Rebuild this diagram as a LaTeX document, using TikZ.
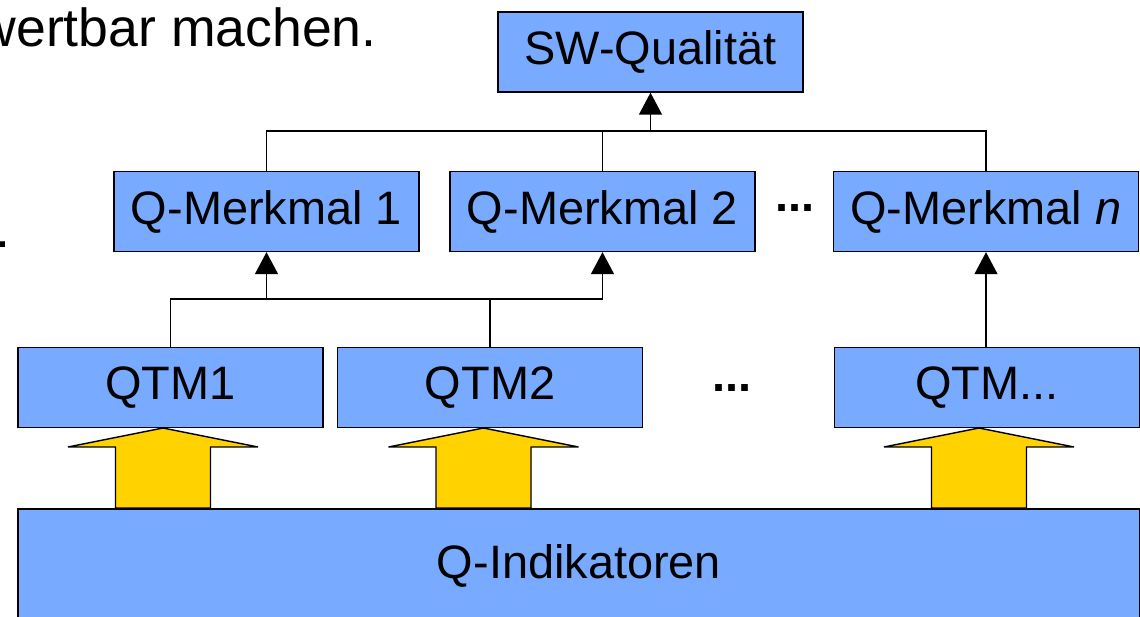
\documentclass[tikz,border=0pt]{standalone}
\usepackage{fontspec}
\setmainfont{Liberation Sans}
\usetikzlibrary{arrows.meta}

\definecolor{qblue}{RGB}{120,170,255}
\definecolor{qyellow}{RGB}{255,210,0}

\tikzset{
  qbox/.style={draw=black, fill=qblue, line width=0.8pt, minimum width=6.1cm, minimum height=1.6cm, inner sep=0pt, font=\fontsize{26.7}{32}\selectfont},
  link/.style={line width=0.85pt, -{Triangle[width=0.46cm,length=0.44cm]}},
  wire/.style={line width=0.85pt},
  fatarrow/.style={draw=black, fill=qyellow, line width=0.8pt, line join=miter}
}

\begin{document}
\begin{tikzpicture}[x=0.02cm, y=-0.02cm]

\useasboundingbox (0,0) rectangle (1140,617);

% leftover slide text
\node[anchor=base east, inner sep=0pt, font=\fontsize{30.5}{36}\selectfont] (slide) at (377,47) {wertbar machen.};
\node[anchor=base west, inner sep=0pt, font=\fontsize{30.5}{36}\selectfont] (stop) at (-5,248) {.};

% boxes
\node[qbox] (sw) at (650.5,52) {SW-Qualit\"at};
\node[qbox] (qm1) at (266.5,211.5) {Q-Merkmal 1};
\node[qbox] (qm2) at (602.5,211.5) {Q-Merkmal 2};
\node[qbox] (qmn) at (986,211.5) {Q-Merkmal \textit{n}};
\node[qbox] (qtm1) at (170.5,387.5) {QTM1};
\node[qbox] (qtm2) at (490,387.5) {QTM2};
\node[qbox] (qtmn) at (987,387.5) {QTM...};
\node[qbox, minimum width=22.44cm, minimum height=2.28cm] (qind) at (579,566) {Q-Indikatoren};

\node[anchor=base, inner sep=0pt, font=\fontsize{26.7}{32}\selectfont\bfseries] (dotsm) at (795,212) {...};
\node[anchor=base, inner sep=0pt, font=\fontsize{26.7}{32}\selectfont\bfseries] (dotsq) at (732,392) {...};

% upper tree
\coordinate (top) at (0,131);
\draw[wire] (qm1.north) |- (top -| qmn.north) -- (qmn.north);
\draw[wire] (qm2.north) -- (qm2.north |- top);
\draw[link] (sw.south |- top) -- (sw.south);

% lower tree
\coordinate (mid) at (0,299);
\draw[wire] (qtm1.north) |- (mid -| qm2.south);
\draw[wire] (qtm2.north) -- (qtm2.north |- mid);
\draw[link] (qm1.south |- mid) -- (qm1.south);
\draw[link] (qm2.south |- mid) -- (qm2.south);
\draw[link] (qtmn.north -| qmn.south) -- (qmn.south);

% yellow block arrows
\foreach \tip in {163,483.5,979}
  \draw[fatarrow] (\tip,428) -- (\tip+95,447) -- (\tip+47.5,447) -- (\tip+47.5,508)
    -- (\tip-47.5,508) -- (\tip-47.5,447) -- (\tip-95,447) -- cycle;

\end{tikzpicture}
\end{document}
